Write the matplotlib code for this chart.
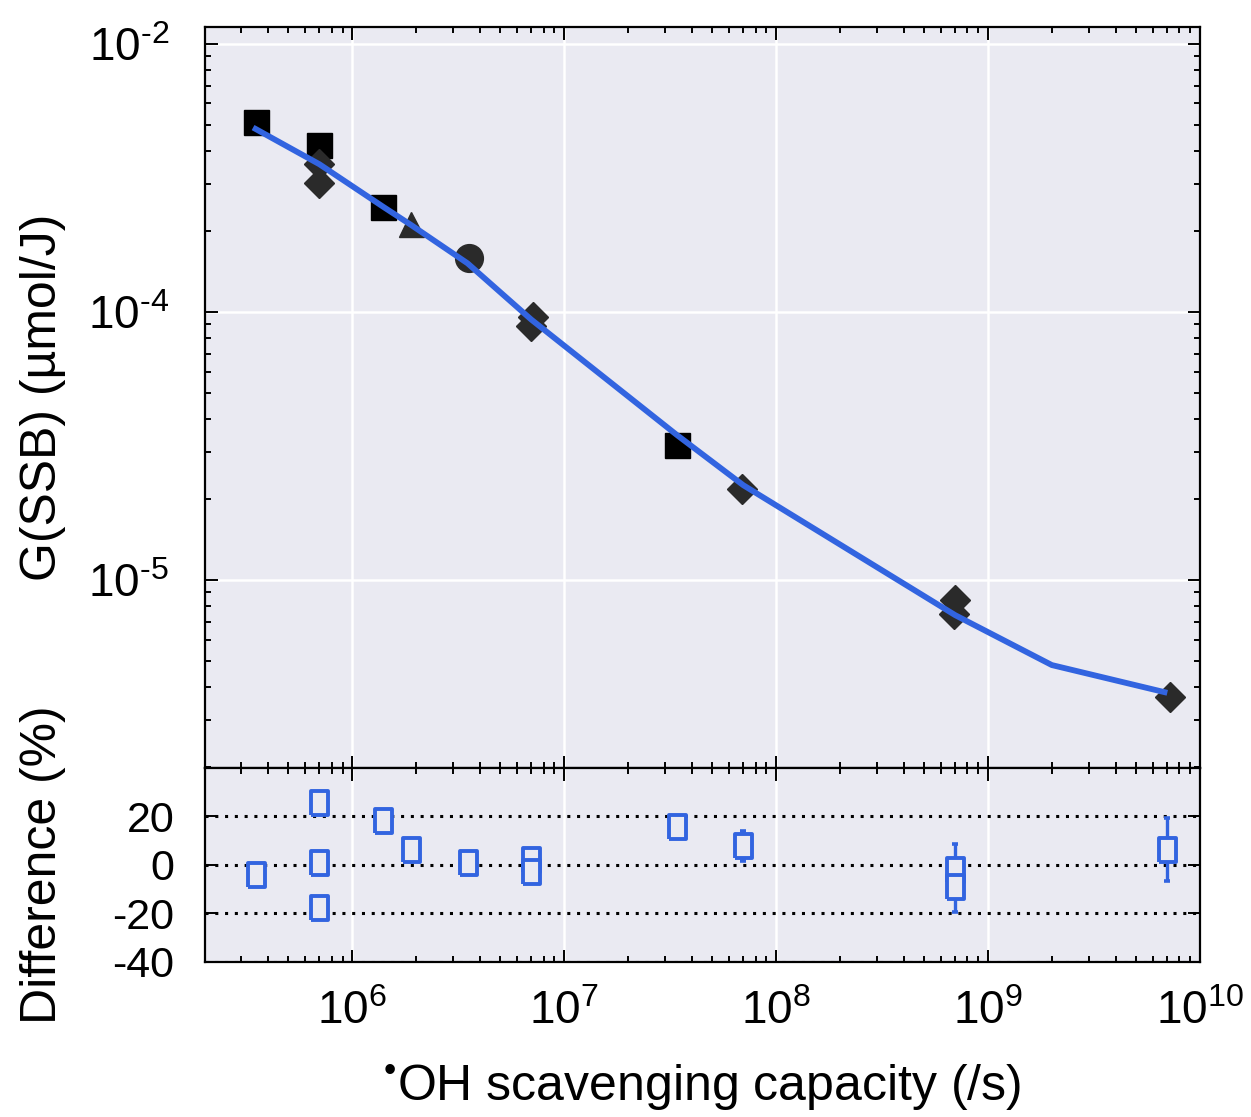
import matplotlib
matplotlib.use("Agg")
import matplotlib.pyplot as plt
from matplotlib.ticker import FixedLocator, FixedFormatter, LogLocator, NullFormatter

# --- data ---
# measured G(SSB) points (µmol/J) vs OH scavenging capacity (/s)
square_x = [3.5e5, 7.0e5, 1.4e6, 3.4e7]
square_y = [5.1e-4, 4.2e-4, 2.47e-4, 3.2e-5]
diamond_x = [7.0e5, 7.0e5, 7.1e6, 7.0e6, 6.9e7, 7.0e8, 6.9e8, 7.2e9]
diamond_y = [3.56e-4, 3.03e-4, 9.6e-5, 8.9e-5, 2.19e-5, 8.4e-6, 7.5e-6, 3.66e-6]
triangle_x = [1.9e6]
triangle_y = [2.13e-4]
circle_x = [3.55e6]
circle_y = [1.59e-4]

# model curve
model_x = [3.5e5, 7.0e5, 1.4e6, 1.9e6, 3.5e6, 7.0e6, 3.4e7, 7.0e7, 7.0e8, 2.0e9, 6.8e9]
model_y = [4.82e-4, 3.56e-4, 2.47e-4, 2.11e-4, 1.52e-4, 9.37e-5, 3.48e-5, 2.26e-5,
           7.4e-6, 4.82e-6, 3.82e-6]

# difference (%) between model and measurement
diff_x = [3.5e5, 7.0e5, 7.0e5, 7.0e5, 1.4e6, 1.9e6, 3.5e6, 7.0e6, 7.0e6,
          3.4e7, 7.0e7, 7.0e8, 7.0e8, 7.0e9]
diff_y = [-4.3, 25.5, 0.6, -17.8, 18.2, 6.3, 0.6, 2.2, -3.1,
          15.5, 7.8, -2.2, -9.2, 6.3]
diff_err = [0, 0, 0, 0, 0, 0, 0, 0, 0, 1.8, 6.3, 10.8, 10.4, 12.9]

x_ticks = [1e6, 1e7, 1e8, 1e9, 1e10]
x_ticklabels = ["$10^{6}$", "$10^{7}$", "$10^{8}$", "$10^{9}$", "$10^{10}$"]
g_ticks = [1e-5, 1e-4, 1e-3]
g_ticklabels = ["$10^{\u20105}$", "$10^{\u20104}$", "$10^{\u20102}$"]
d_ticks = [-40, -20, 0, 20]
d_ticklabels = ["-40", "-20", "0", "20"]

# --- style ---
plt.rcParams["font.family"] = ["Liberation Sans", "DejaVu Sans"]
plt.rcParams["mathtext.fontset"] = "custom"
plt.rcParams["mathtext.rm"] = "Liberation Sans"
plt.rcParams["mathtext.it"] = "Liberation Sans:italic"
plt.rcParams["mathtext.bf"] = "Liberation Sans:bold"
plt.rcParams["axes.unicode_minus"] = False

bg = "#EAEAF2"
blue = "#3264E0"
dark = "#2A2A2A"

fig = plt.figure(figsize=(12.51, 11.17), dpi=100)
ax = fig.add_axes([0.1639, 0.3124, 0.7953, 0.6634])
axd = fig.add_axes([0.1639, 0.1388, 0.7953, 0.1737], sharex=ax)

for a in (ax, axd):
    a.set_facecolor(bg)
    for s in a.spines.values():
        s.set_linewidth(1.6)
        s.set_color("black")
    a.tick_params(which="both", direction="in", top=True, right=True, width=1.4)
    a.tick_params(which="major", length=9)
    a.tick_params(which="minor", length=4.5)
    a.set_axisbelow(True)

# top panel
ax.set_xscale("log")
ax.set_yscale("log")
ax.set_xlim(2.02e5, 1e10)
ax.set_ylim(1.99e-6, 1.157e-3)
ax.grid(True, which="major", color="white", linewidth=1.8)
ax.yaxis.set_major_locator(FixedLocator(g_ticks))
ax.yaxis.set_major_formatter(FixedFormatter(g_ticklabels))
ax.yaxis.set_minor_locator(LogLocator(base=10, subs=range(2, 10)))
ax.yaxis.set_minor_formatter(NullFormatter())
ax.tick_params(axis="y", labelsize=33, pad=26)
ax.tick_params(axis="x", labelbottom=False)

ax.plot(square_x, square_y, "s", color="black", markersize=18, zorder=3)
ax.plot(diamond_x, diamond_y, "D", color=dark, markersize=15.5, zorder=3)
ax.plot(triangle_x, triangle_y, "^", color=dark, markersize=18, zorder=3)
ax.plot(circle_x, circle_y, "o", color=dark, markersize=20, zorder=3)
ax.plot(model_x, model_y, "-", color=blue, linewidth=4.2, zorder=4)

ax.set_ylabel("G(SSB) (µmol/J)", fontsize=36)
ax.yaxis.set_label_coords(-0.14, 0.5)

# bottom panel
axd.set_ylim(-40, 40)
axd.xaxis.set_major_locator(FixedLocator(x_ticks))
axd.xaxis.set_major_formatter(FixedFormatter(x_ticklabels))
axd.xaxis.set_minor_locator(LogLocator(base=10, subs=range(2, 10)))
axd.xaxis.set_minor_formatter(NullFormatter())
axd.yaxis.set_major_locator(FixedLocator(d_ticks))
axd.yaxis.set_major_formatter(FixedFormatter(d_ticklabels))
axd.grid(True, axis="x", which="major", color="white", linewidth=1.8)
axd.grid(True, axis="y", which="major", color="black", linewidth=2.2,
         linestyle=(0, (1, 2.2)))
axd.tick_params(axis="x", labelsize=33, pad=20)
axd.tick_params(axis="y", labelsize=31, pad=22)

rect = [(-0.72, -1), (0.72, -1), (0.72, 1), (-0.72, 1), (-0.72, -1)]
axd.errorbar(diff_x, diff_y, yerr=diff_err, fmt="none", ecolor=blue,
             elinewidth=2.4, capsize=2.5, capthick=2.6, zorder=3)
axd.plot(diff_x, diff_y, linestyle="none", marker=rect, markersize=17,
         markerfacecolor=bg, markeredgecolor=blue, markeredgewidth=2.8, zorder=4)

axd.set_ylabel("Difference (%)", fontsize=36)
axd.yaxis.set_label_coords(-0.14, 0.5)
axd.set_xlabel("$^{\u2022}$OH scavenging capacity (/s)", fontsize=36, labelpad=20)

fig.savefig("out.png", dpi=100, facecolor="white")
